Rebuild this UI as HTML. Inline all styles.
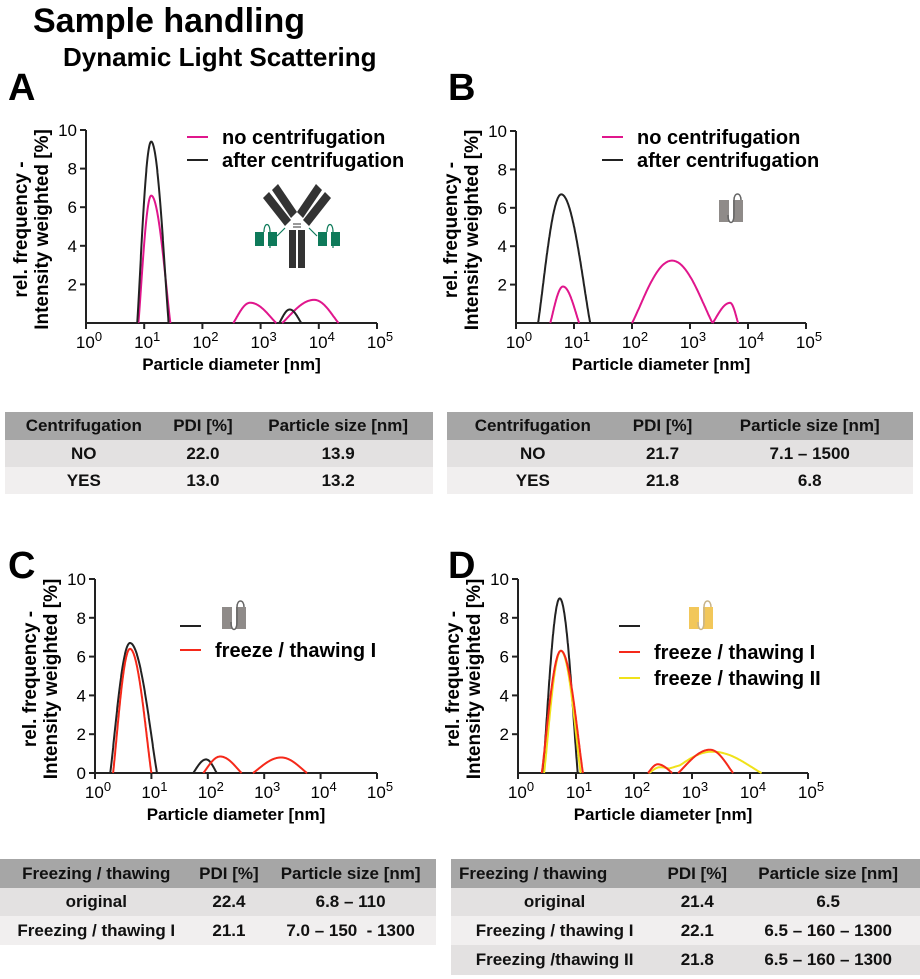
<!DOCTYPE html>
<html><head><meta charset="utf-8">
<style>
body{margin:0;background:#fff;width:920px;height:979px;position:relative;overflow:hidden;font-family:"Liberation Sans",Arial,sans-serif}
svg{position:absolute;left:0;top:0}
.tbl{position:absolute;border-collapse:collapse;font-family:"Liberation Sans Narrow","Liberation Sans",sans-serif;font-weight:bold;font-size:17px;color:#111}
.tbl td{padding:0;text-align:center;white-space:nowrap}
.tbl tr.h td{background:#a6a6a6}
.tbl tr.r1 td{background:#e3e1e1}
.tbl tr.r2 td{background:#f1efef}
</style></head><body>
<svg id="fig" width="920" height="979">
<text x="33" y="32" font-size="34" font-weight="bold">Sample handling</text>
<text x="63" y="66" font-size="26" font-weight="bold">Dynamic Light Scattering</text>
</svg>

<table class="tbl" style="left:5px;top:412px;width:428px">
<tr class="h" style="height:28px"><td>Centrifugation</td><td>PDI [%]</td><td>Particle size [nm]</td></tr>
<tr class="r1" style="height:27px"><td>NO</td><td>22.0</td><td>13.9</td></tr>
<tr class="r2" style="height:27px"><td>YES</td><td>13.0</td><td>13.2</td></tr>
</table>
<table class="tbl" style="left:447px;top:412px;width:466px">
<tr class="h" style="height:28px"><td>Centrifugation</td><td>PDI [%]</td><td>Particle size [nm]</td></tr>
<tr class="r1" style="height:27px"><td>NO</td><td>21.7</td><td>7.1 – 1500</td></tr>
<tr class="r2" style="height:27px"><td>YES</td><td>21.8</td><td>6.8</td></tr>
</table>
<table class="tbl" style="left:0px;top:859px;width:436px">
<tr class="h" style="height:29px"><td>Freezing / thawing</td><td>PDI [%]</td><td>Particle size [nm]</td></tr>
<tr class="r1" style="height:28px"><td>original</td><td>22.4</td><td>6.8 – 110</td></tr>
<tr class="r2" style="height:29px"><td>Freezing / thawing I</td><td>21.1</td><td>7.0 – 150 &nbsp;- 1300</td></tr>
</table>
<table class="tbl" style="left:451px;top:859px;width:469px">
<tr class="h" style="height:29px"><td style="text-align:left;padding-left:8px">Freezing / thawing</td><td>PDI [%]</td><td>Particle size [nm]</td></tr>
<tr class="r1" style="height:28px"><td>original</td><td>21.4</td><td>6.5</td></tr>
<tr class="r2" style="height:29px"><td>Freezing / thawing I</td><td>22.1</td><td>6.5 – 160 – 1300</td></tr>
<tr class="r1" style="height:30px"><td>Freezing /thawing II</td><td>21.8</td><td>6.5 – 160 – 1300</td></tr>
</table>

<script>
// data: each peak = [log10 center diameter, height %, left width (decades), right width (decades)]
const xTicks = [0,1,2,3,4,5];
const yTicksA = [2,4,6,8,10];
const yTicksC = [0,2,4,6,8,10];
const peaksA_pink = [[1.12,6.6,0.22,0.33],[2.82,1.05,0.29,0.45],[3.92,1.2,0.55,0.42]];
const peaksA_black = [[1.12,9.4,0.24,0.3],[3.5,0.7,0.18,0.2]];
const peaksB_pink = [[0.81,1.9,0.22,0.28],[2.69,3.25,0.69,0.7],[3.69,1.05,0.3,0.14]];
const peaksB_black = [[0.78,6.7,0.4,0.5]];
const peaksC_black = [[0.62,6.7,0.35,0.48],[1.97,0.7,0.23,0.19]];
const peaksC_red = [[0.62,6.4,0.3,0.38],[2.22,0.85,0.3,0.38],[3.3,0.8,0.5,0.46]];
const peaksD_black = [[0.72,9.0,0.29,0.31]];
const peaksD_red = [[0.74,6.3,0.33,0.38],[2.41,0.45,0.17,0.25],[3.31,1.2,0.55,0.4]];
const peaksD_yellow = [[0.74,6.3,0.29,0.34],[2.45,0.3,0.19,0.35],[3.35,1.1,0.75,0.85]];

const NS="http://www.w3.org/2000/svg";
const svg=document.getElementById('fig');
function mk(tag,attrs,parent){const e=document.createElementNS(NS,tag);for(const k in attrs)e.setAttribute(k,attrs[k]);(parent||svg).appendChild(e);return e;}

function panel(p){
  const g=mk('g',{});
  
  
  const sx=v=>p.x0+(v/5)*(p.x1-p.x0);
  const sy=v=>p.y0-(v/10)*(p.y0-p.y10);
  const letter=mk('text',{x:p.lx,y:p.ly,'font-size':38,'font-weight':'bold'},g);letter.textContent=p.id;
  
  
  const ax=mk('path',{d:`M${p.x0} ${p.y10}V${p.y0}H${p.x1}`,stroke:'#222','stroke-width':2,fill:'none'},g);
  
  
  p.yt.forEach(v=>{
    mk('line',{x1:p.x0-6,x2:p.x0,y1:sy(v),y2:sy(v),stroke:'#222','stroke-width':2},g);
    const t=mk('text',{x:p.x0-9,y:sy(v)+6,'font-size':17,'text-anchor':'end'},g);t.textContent=v;
    
    
  });
  xTicks.forEach(v=>{
    mk('line',{x1:sx(v),x2:sx(v),y1:p.y0,y2:p.y0+6,stroke:'#222','stroke-width':2},g);
    const t=mk('text',{x:sx(v)+3,y:p.y0+25,'font-size':17,'text-anchor':'middle'},g);
    t.innerHTML='10<tspan dy="-7" font-size="13">'+v+'</tspan>';
    
    
  });
  const xt=mk('text',{x:(p.x0+p.x1)/2,y:p.y0+47,'font-size':17,'font-weight':'bold','text-anchor':'middle'},g);
  xt.textContent='Particle diameter [nm]';
  
  
  const cy=(p.y0+p.y10)/2+3;
  const yt=mk('text',{transform:`translate(${p.x0-59},${cy}) rotate(-90)`,'font-size':19,'font-weight':'bold','text-anchor':'middle'},g);
  yt.innerHTML='<tspan x="0" dy="0">rel. frequency -</tspan><tspan x="0" dy="21">Intensity weighted [%]</tspan>';
  
  
  p.series.forEach(s=>{
    const f=x=>{let y=0;s.peaks.forEach(k=>{const w=x<k[0]?k[2]:k[3];const u=(x-k[0])/w;if(Math.abs(u)<1)y+=k[1]*Math.pow(Math.cos(Math.PI/2*u),1.1);});return y;};
    const segs=s.peaks.map(k=>[k[0]-k[2],k[0]+k[3]]).sort((a,b)=>a[0]-b[0]);
    const m=[];segs.forEach(sg=>{if(m.length&&sg[0]<=m[m.length-1][1])m[m.length-1][1]=Math.max(m[m.length-1][1],sg[1]);else m.push(sg.slice());});
    let d='';
    m.forEach(sg=>{for(let i=0;i<=160;i++){const x=sg[0]+(sg[1]-sg[0])*i/160;d+=(i?'L':'M')+sx(x).toFixed(1)+' '+sy(f(x)).toFixed(1);}});
    const path=mk('path',{d:d,stroke:s.color,'stroke-width':2,fill:'none','stroke-linejoin':'round'},g);
    
    
  });
  p.legend.forEach(l=>{
    const ln=mk('line',{x1:l.x,x2:l.x+21,y1:l.y,y2:l.y,stroke:l.color,'stroke-width':2},g);
    
    
    if(l.text){const t=mk('text',{x:l.x+35,y:l.y+7,'font-size':20,'font-weight':'bold'},g);t.textContent=l.text;
      
      }
  });
  if(p.icon){
    const ic=mk('g',{transform:`translate(${p.icon.x},${p.icon.y})`},g);
    
    
    mk('rect',{x:0,y:5,width:10,height:22,fill:p.icon.c},ic);
    mk('rect',{x:14,y:5,width:10,height:22,fill:p.icon.c},ic);
    mk('path',{d:'M9 20 C9 30 15 30 15 20 V5 C15 -3 22 -3 22 5',stroke:p.icon.line,'stroke-width':1.5,fill:'none'},ic);
  }
  if(p.antibody){
    const a=mk('g',{transform:`translate(${p.antibody.x},${p.antibody.y})`},g);
    
    
    mk('rect',{x:26,y:40,width:7,height:38,fill:'#333'},a);
    mk('rect',{x:35,y:40,width:7,height:38,fill:'#333'},a);
    // arms: two parallel bars each side
    mk('path',{d:'M0 8 L6 2 L28 30 L22 36 Z',fill:'#333'},a);
    mk('path',{d:'M9 0 L15 -6 L34 22 L28 28 Z',fill:'#333'},a);
    mk('path',{d:'M68 8 L62 2 L40 30 L46 36 Z',fill:'#333'},a);
    mk('path',{d:'M59 0 L53 -6 L34 22 L40 28 Z',fill:'#333'},a);
    mk('line',{x1:30,y1:34,x2:38,y2:34,stroke:'#333','stroke-width':1},a);
    mk('line',{x1:30,y1:37,x2:38,y2:37,stroke:'#333','stroke-width':1},a);
    [[-8,42],[5,42],[55,42],[68,42]].forEach(q=>mk('rect',{x:q[0],y:q[1],width:9,height:14,fill:'#0e7a5a'},a));
    mk('path',{d:'M1 42 C1 32 7 32 7 42 V58 M22 38 L14 46',stroke:'#0e7a5a','stroke-width':1.2,fill:'none'},a);
    mk('path',{d:'M64 42 C64 32 70 32 70 42 V58 M46 38 L54 46',stroke:'#0e7a5a','stroke-width':1.2,fill:'none'},a);
  }
}

panel({id:'A',lx:8,ly:100,x0:86,x1:377,y0:323,y10:130,yt:yTicksA,
  series:[{name:'a-no-centrifugation',color:'#e0168c',peaks:peaksA_pink},{name:'a-after-centrifugation',color:'#222',peaks:peaksA_black}],
  legend:[{x:187,y:137,color:'#e0168c',text:'no centrifugation'},{x:187,y:160,color:'#222',text:'after centrifugation'}],
  antibody:{x:263,y:190}});
panel({id:'B',lx:448,ly:100,x0:516,x1:806,y0:323,y10:131,yt:yTicksA,
  series:[{name:'b-no-centrifugation',color:'#e0168c',peaks:peaksB_pink},{name:'b-after-centrifugation',color:'#222',peaks:peaksB_black}],
  legend:[{x:602,y:137,color:'#e0168c',text:'no centrifugation'},{x:602,y:160,color:'#222',text:'after centrifugation'}],
  icon:{x:719,y:195,c:'#8f8b89',line:'#666'}});
panel({id:'C',lx:8,ly:578,x0:95,x1:377,y0:773,y10:579,yt:yTicksC,
  series:[{name:'c-original',color:'#222',peaks:peaksC_black},{name:'c-freeze-thawing-1',color:'#f5291a',peaks:peaksC_red}],
  legend:[{x:180,y:626,color:'#222',text:''},{x:180,y:650,color:'#f5291a',text:'freeze / thawing I'}],
  icon:{x:222,y:602,c:'#8f8b89',line:'#666'}});
panel({id:'D',lx:448,ly:578,x0:518,x1:808,y0:773,y10:579,yt:yTicksA,
  series:[{name:'d-original',color:'#222',peaks:peaksD_black},{name:'d-freeze-thawing-2',color:'#f0e21a',peaks:peaksD_yellow},{name:'d-freeze-thawing-1',color:'#f5291a',peaks:peaksD_red}],
  legend:[{x:619,y:626,color:'#222',text:''},{x:619,y:652,color:'#f5291a',text:'freeze / thawing I'},{x:619,y:678,color:'#f0e21a',text:'freeze / thawing II'}],
  icon:{x:689,y:602,c:'#f2c75a',line:'#c8b48a'}});
</script>
</body></html>
